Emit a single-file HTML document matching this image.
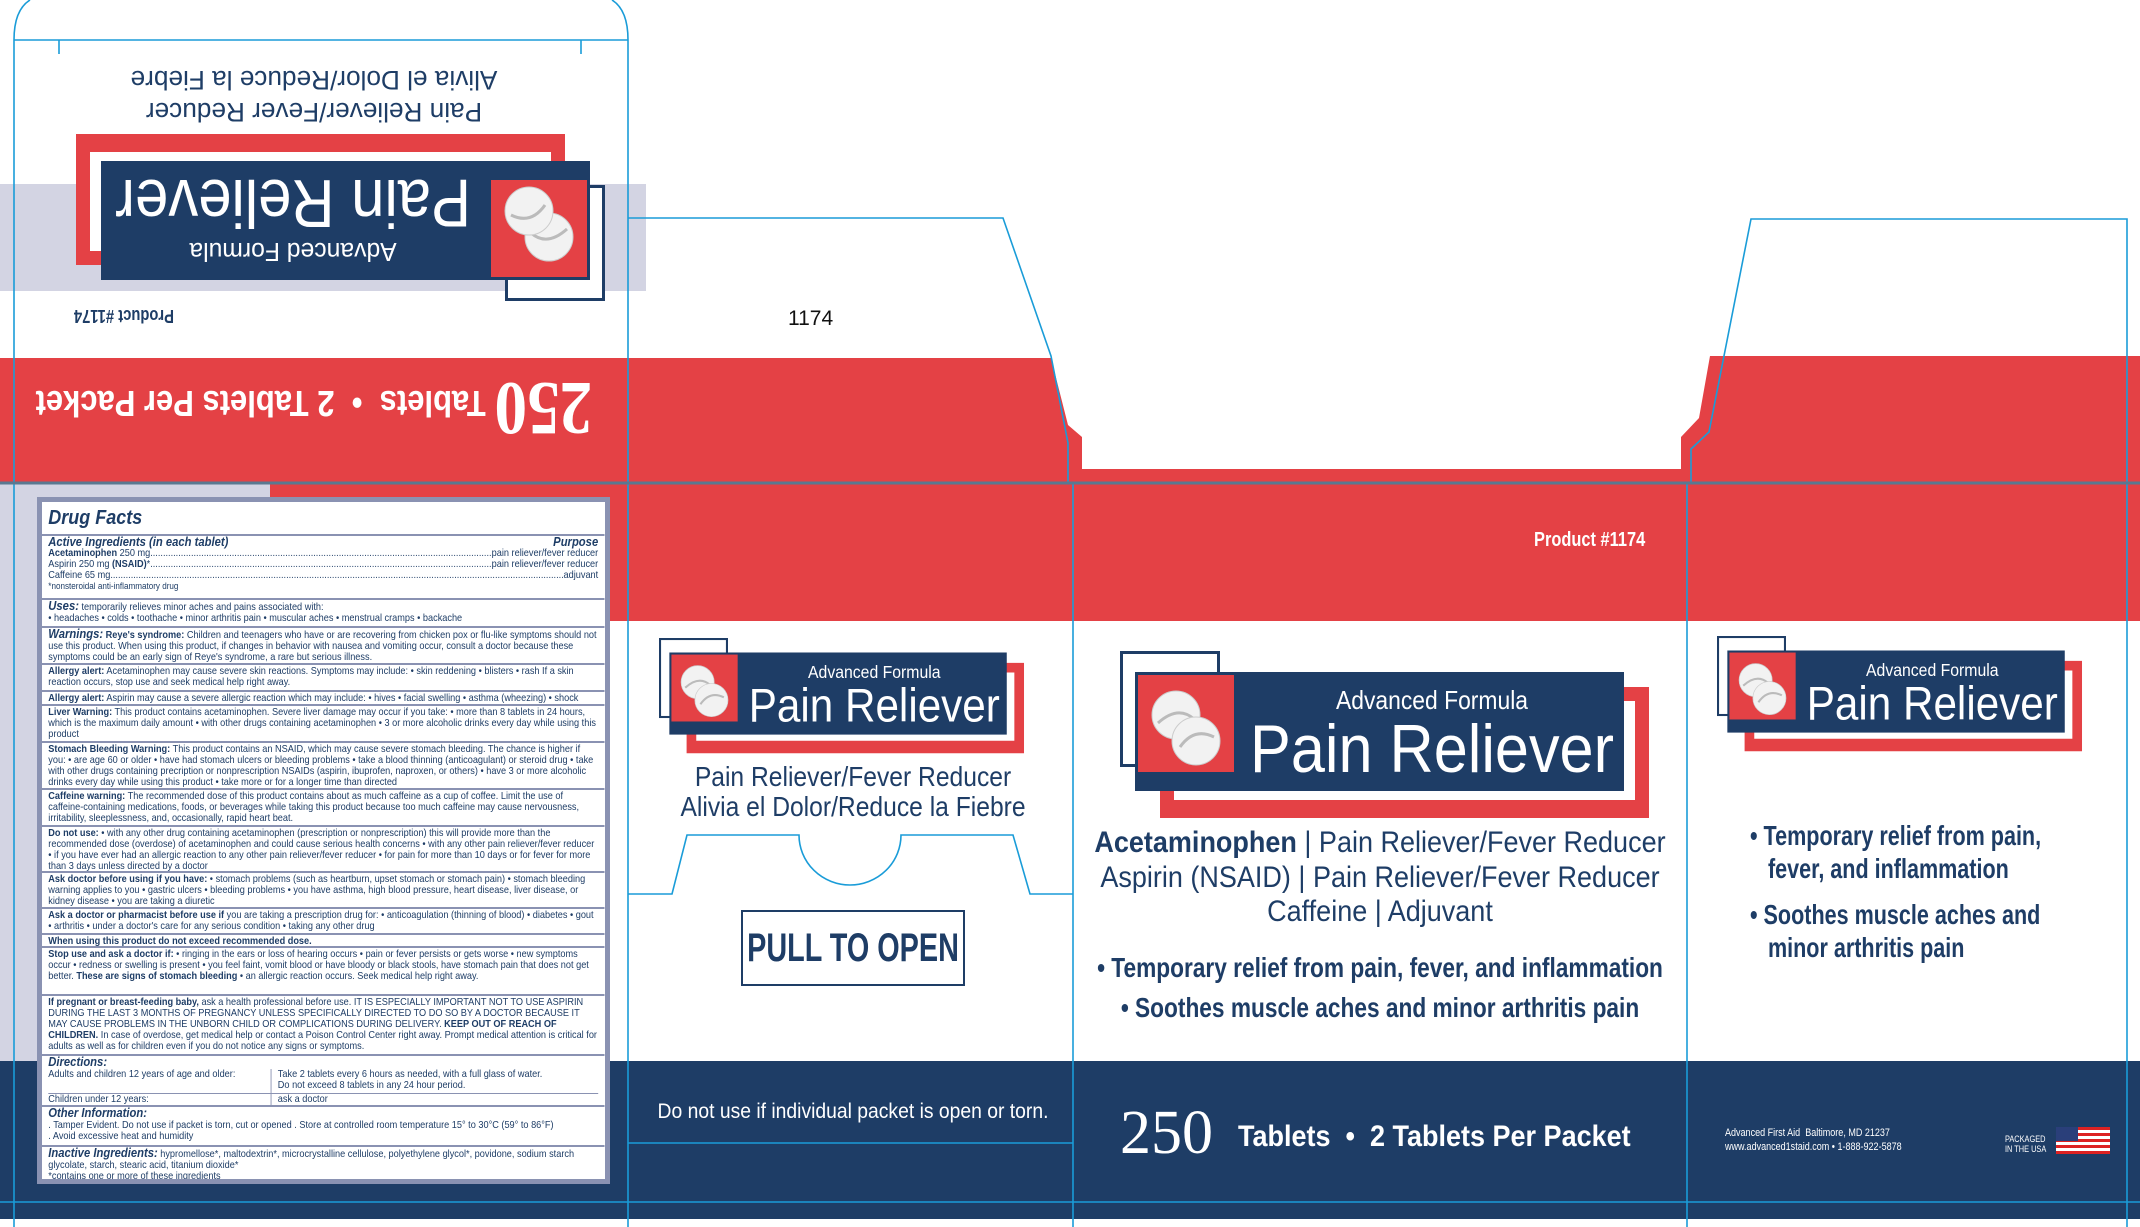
<!DOCTYPE html>
<html><head><meta charset="utf-8"><style>
*{margin:0;padding:0;box-sizing:border-box}
body{width:2140px;height:1227px;position:relative;overflow:hidden;background:#fff;font-family:"Liberation Sans",sans-serif;color:#1e3d66}
.abs{position:absolute}
.c{position:absolute;white-space:nowrap;text-align:center;transform:scaleX(.82);transform-origin:50% 50%}
.l{position:absolute;white-space:nowrap;transform:scaleX(.82);transform-origin:0 0}
.logo{position:absolute;width:529px;height:167px}
.logo .ob{position:absolute;left:0;top:0;width:100px;height:116px;border:3px solid #1e3d66;background:#fff}
.logo .rf{position:absolute;left:40px;top:36px;width:489px;height:131px;border:14px solid #e44145;border-bottom-width:18px;background:#fff}
.logo .nb{position:absolute;left:15px;top:21px;width:489px;height:119px;background:#1e3d66}
.logo .rs{position:absolute;left:18px;top:24px;width:96px;height:97px;background:#e44145}
.logo .af{left:112px;width:400px;top:34px;color:#fff;font-size:26px;line-height:30px;transform:scaleX(.88)}
.logo .pr{left:62px;width:500px;top:56px;color:#fff;font-size:68px;line-height:84px;transform:scaleX(.9)}
.df{position:absolute;left:37px;top:497px;width:573px;height:687px;background:#8a92b2;padding:5px}
.df .in{background:#fff;height:100%;overflow:hidden}
.df .sc{width:625px;transform:scaleX(.9);transform-origin:0 0;font-size:10.2px;line-height:11px;color:#1e3d66}
.df .s{border-top:2.5px solid #8a92b2;padding:1px 7px 2px 7px;overflow:hidden}
.df .h{font-weight:bold;font-style:italic;font-size:12.5px}
.row{display:flex;justify-content:space-between;white-space:nowrap}
.row .d{flex:1;overflow:hidden;min-width:0}
.row .p{flex:none}
</style></head><body>
<svg class="abs" style="left:0;top:0" width="2140" height="1227">
<rect x="0" y="184" width="646" height="107" fill="#d3d4e3"/>
<polygon points="0,358 1051,358 1068,425 1082,437 1082,469 1681,469 1681,437 1699,418 1710,356 2140,356 2140,621 270,621 270,483 0,483" fill="#e44145"/>
<rect x="0" y="483" width="270" height="14" fill="#d3d4e3"/>
<rect x="0" y="483" width="37" height="578" fill="#d3d4e3"/>
<rect x="0" y="1061" width="2140" height="158" fill="#1e3d66"/>
</svg>

<!-- Panel A upside-down -->
<div class="abs" style="left:0;top:0;width:628px;height:483px;transform:rotate(180deg)">
  <div class="c" style="left:-86px;width:800px;top:30px;font-size:36px;color:#fff;font-weight:bold;line-height:90px;transform:scaleX(.86)">
    <span style="font-family:'Liberation Serif',serif;font-size:76px;vertical-align:-8px">250</span> Tablets &nbsp;• &nbsp;2 Tablets Per Packet</div>
  <div class="l" style="left:454px;top:157px;font-size:18px;font-weight:bold">Product #1174</div>
  <div class="logo" style="left:23px;top:182px">
    <div class="ob"></div><div class="rf"></div><div class="nb"></div>
    <div class="rs"><svg width="96" height="97"><circle cx="38" cy="40" r="24" fill="#f2f2f2" stroke="#ccc"/><path d="M20,48 Q40,30 56,44" stroke="#bbb" fill="none" stroke-width="3"/><circle cx="58" cy="66" r="24" fill="#f2f2f2" stroke="#ccc"/><path d="M42,72 Q56,52 76,62" stroke="#bbb" fill="none" stroke-width="3"/></svg></div>
    <div class="c af" style="transform:scaleX(.95)">Advanced Formula</div>
    <div class="c pr" style="transform:scaleX(.88)">Pain Reliever</div>
  </div>
  <div class="c" style="left:-86px;width:800px;top:355px;font-size:27px;line-height:32px;transform:scaleX(.97)">Pain Reliever/Fever Reducer<br>Alivia el Dolor/Reduce la Fiebre</div>
</div>

<div class="abs" style="left:788px;top:307px;font-size:21px;color:#111">1174</div>
<div class="l" style="left:1534px;top:529px;font-size:20px;color:#fff;font-weight:bold">Product #1174</div>

<!-- Panel B -->
<div class="logo" style="left:659px;top:638px;transform:scale(0.69);transform-origin:0 0">
  <div class="ob"></div><div class="rf"></div><div class="nb"></div>
  <div class="rs"><svg width="96" height="97"><circle cx="38" cy="40" r="24" fill="#f2f2f2" stroke="#ccc"/><path d="M20,48 Q40,30 56,44" stroke="#bbb" fill="none" stroke-width="3"/><circle cx="58" cy="66" r="24" fill="#f2f2f2" stroke="#ccc"/><path d="M42,72 Q56,52 76,62" stroke="#bbb" fill="none" stroke-width="3"/></svg></div>
  <div class="c af">Advanced Formula</div><div class="c pr">Pain Reliever</div>
</div>
<div class="c" style="left:453px;width:800px;top:762px;font-size:28px;line-height:30px;transform:scaleX(.88)">Pain Reliever/Fever Reducer<br>Alivia el Dolor/Reduce la Fiebre</div>
<div class="abs" style="left:741px;top:910px;width:224px;height:76px;border:2px solid #1e3d66"></div>
<div class="c" style="left:553px;width:600px;top:910px;font-size:40px;line-height:76px;font-weight:bold;transform:scaleX(.72)">PULL TO OPEN</div>
<div class="c" style="left:453px;width:800px;top:1100px;font-size:21px;color:#fff;transform:scaleX(.92)">Do not use if individual packet is open or torn.</div>

<!-- Panel C -->
<div class="logo" style="left:1120px;top:651px">
  <div class="ob"></div><div class="rf"></div><div class="nb"></div>
  <div class="rs"><svg width="96" height="97"><circle cx="38" cy="40" r="24" fill="#f2f2f2" stroke="#ccc"/><path d="M20,48 Q40,30 56,44" stroke="#bbb" fill="none" stroke-width="3"/><circle cx="58" cy="66" r="24" fill="#f2f2f2" stroke="#ccc"/><path d="M42,72 Q56,52 76,62" stroke="#bbb" fill="none" stroke-width="3"/></svg></div>
  <div class="c af">Advanced Formula</div><div class="c pr">Pain Reliever</div>
</div>
<div class="c" style="left:980px;width:800px;top:826px;font-size:30px;line-height:34.5px;transform:scaleX(.9)">
<b>Acetaminophen</b> | Pain Reliever/Fever Reducer<br>Aspirin (NSAID) | Pain Reliever/Fever Reducer<br>Caffeine | Adjuvant</div>
<div class="c" style="left:980px;width:800px;top:948px;font-size:28px;line-height:40px;font-weight:bold;transform:scaleX(.81)">• Temporary relief from pain, fever, and inflammation<br>• Soothes muscle aches and minor arthritis pain</div>
<div class="abs" style="left:1120px;top:1098px;font-size:62px;color:#fff;font-family:'Liberation Serif',serif;line-height:70px">250</div>
<div class="l" style="left:1238px;top:1120px;font-size:30px;color:#fff;font-weight:bold;transform:scaleX(.9)">Tablets &nbsp;• &nbsp;2 Tablets Per Packet</div>

<!-- Panel D -->
<div class="logo" style="left:1717px;top:636px;transform:scale(0.69);transform-origin:0 0">
  <div class="ob"></div><div class="rf"></div><div class="nb"></div>
  <div class="rs"><svg width="96" height="97"><circle cx="38" cy="40" r="24" fill="#f2f2f2" stroke="#ccc"/><path d="M20,48 Q40,30 56,44" stroke="#bbb" fill="none" stroke-width="3"/><circle cx="58" cy="66" r="24" fill="#f2f2f2" stroke="#ccc"/><path d="M42,72 Q56,52 76,62" stroke="#bbb" fill="none" stroke-width="3"/></svg></div>
  <div class="c af">Advanced Formula</div><div class="c pr">Pain Reliever</div>
</div>
<div class="l" style="left:1750px;top:820px;font-size:28px;line-height:32.5px;font-weight:bold;transform:scaleX(.77)">• Temporary relief from pain,<br>&nbsp;&nbsp;&nbsp;fever, and inflammation</div>
<div class="l" style="left:1750px;top:899px;font-size:28px;line-height:32.5px;font-weight:bold;transform:scaleX(.77)">• Soothes muscle aches and<br>&nbsp;&nbsp;&nbsp;minor arthritis pain</div>
<div class="l" style="left:1725px;top:1126px;font-size:11px;line-height:14px;color:#fff">Advanced First Aid &nbsp;Baltimore, MD 21237<br>www.advanced1staid.com • 1-888-922-5878</div>
<div class="l" style="left:2005px;top:1134px;font-size:9px;line-height:10px;color:#fff">PACKAGED<br>IN THE USA</div>
<svg class="abs" style="left:2056px;top:1127px" width="54" height="27"><rect width="54" height="27" fill="#fff"/><g fill="#d22"><rect y="0" width="54" height="3"/><rect y="6" width="54" height="3"/><rect y="12" width="54" height="3"/><rect y="18" width="54" height="3"/><rect y="24" width="54" height="3"/></g><rect width="22" height="14" fill="#2a3f7a"/></svg>

<!-- Drug facts -->
<div class="df"><div class="in"><div class="sc">
<div style="padding:2px 7px;height:32px"><span style="font-size:20px;font-weight:bold;font-style:italic;line-height:28px">Drug Facts</span></div>
<div class="s" style="height:64px"><div class="row"><span class="h">Active Ingredients (in each tablet)</span><span class="h">Purpose</span></div>
<div class="row"><span class="d"><b>Acetaminophen</b> 250 mg..................................................................................................................................................................</span><span class="p">pain reliever/fever reducer</span></div>
<div class="row"><span class="d">Aspirin 250 mg <b>(NSAID)</b>*.........................................................................................................................................................</span><span class="p">pain reliever/fever reducer</span></div>
<div class="row"><span class="d">Caffeine 65 mg...................................................................................................................................................................................</span><span class="p">adjuvant</span></div>
<div style="font-size:9px">*nonsteroidal anti-inflammatory drug</div></div>
<div class="s" style="height:28px"><span class="h">Uses:</span> temporarily relieves minor aches and pains associated with:<br>• headaches • colds • toothache • minor arthritis pain • muscular aches • menstrual cramps • backache</div>
<div class="s" style="height:37px"><span class="h">Warnings:</span> <b>Reye's syndrome:</b> Children and teenagers who have or are recovering from chicken pox or flu-like symptoms should not use this product. When using this product, if changes in behavior with nausea and vomiting occur, consult a doctor because these symptoms could be an early sign of Reye's syndrome, a rare but serious illness.</div>
<div class="s" style="height:27px"><b>Allergy alert:</b> Acetaminophen may cause severe skin reactions. Symptoms may include: • skin reddening • blisters • rash If a skin reaction occurs, stop use and seek medical help right away.</div>
<div class="s" style="height:14px;white-space:nowrap"><b>Allergy alert:</b> Aspirin may cause a severe allergic reaction which may include: • hives • facial swelling • asthma (wheezing) • shock</div>
<div class="s" style="height:37px"><b>Liver Warning:</b> This product contains acetaminophen. Severe liver damage may occur if you take: • more than 8 tablets in 24 hours, which is the maximum daily amount • with other drugs containing acetaminophen • 3 or more alcoholic drinks every day while using this product</div>
<div class="s" style="height:47px"><b>Stomach Bleeding Warning:</b> This product contains an NSAID, which may cause severe stomach bleeding. The chance is higher if you: • are age 60 or older • have had stomach ulcers or bleeding problems • take a blood thinning (anticoagulant) or steroid drug • take with other drugs containing precription or nonprescription NSAIDs (aspirin, ibuprofen, naproxen, or others) • have 3 or more alcoholic drinks every day while using this product • take more or for a longer time than directed</div>
<div class="s" style="height:37px"><b>Caffeine warning:</b> The recommended dose of this product contains about as much caffeine as a cup of coffee. Limit the use of caffeine-containing medications, foods, or beverages while taking this product because too much caffeine may cause nervousness, irritability, sleeplessness, and, occasionally, rapid heart beat.</div>
<div class="s" style="height:46px"><b>Do not use:</b> • with any other drug containing acetaminophen (prescription or nonprescription) this will provide more than the recommended dose (overdose) of acetaminophen and could cause serious health concerns • with any other pain reliever/fever reducer • if you have ever had an allergic reaction to any other pain reliever/fever reducer • for pain for more than 10 days or for fever for more than 3 days unless directed by a doctor</div>
<div class="s" style="height:36px"><b>Ask doctor before using if you have:</b> • stomach problems (such as heartburn, upset stomach or stomach pain) • stomach bleeding warning applies to you • gastric ulcers • bleeding problems • you have asthma, high blood pressure, heart disease, liver disease, or kidney disease • you are taking a diuretic</div>
<div class="s" style="height:26px"><b>Ask a doctor or pharmacist before use if</b> you are taking a prescription drug for: • anticoagulation (thinning of blood) • diabetes • gout • arthritis • under a doctor's care for any serious condition • taking any other drug</div>
<div class="s" style="height:13px"><b>When using this product do not exceed recommended dose.</b></div>
<div class="s" style="height:48px"><b>Stop use and ask a doctor if:</b> • ringing in the ears or loss of hearing occurs • pain or fever persists or gets worse • new symptoms occur • redness or swelling is present • you feel faint, vomit blood or have bloody or black stools, have stomach pain that does not get better. <b>These are signs of stomach bleeding</b> • an allergic reaction occurs. Seek medical help right away.</div>
<div class="s" style="height:60px"><b>If pregnant or breast-feeding baby,</b> ask a health professional before use. IT IS ESPECIALLY IMPORTANT NOT TO USE ASPIRIN DURING THE LAST 3 MONTHS OF PREGNANCY UNLESS SPECIFICALLY DIRECTED TO DO SO BY A DOCTOR BECAUSE IT MAY CAUSE PROBLEMS IN THE UNBORN CHILD OR COMPLICATIONS DURING DELIVERY. <b>KEEP OUT OF REACH OF CHILDREN.</b> In case of overdose, get medical help or contact a Poison Control Center right away. Prompt medical attention is critical for adults as well as for children even if you do not notice any signs or symptoms.</div>
<div class="s" style="height:51px;padding:1px 7px 0"><span class="h">Directions:</span>
<div style="display:flex;border-bottom:1px solid #8a92b2"><div style="width:248px;border-right:1px solid #8a92b2;height:24px">Adults and children 12 years of age and older:</div><div style="padding-left:7px">Take 2 tablets every 6 hours as needed, with a full glass of water.<br>Do not exceed 8 tablets in any 24 hour period.</div></div>
<div style="display:flex"><div style="width:248px;border-right:1px solid #8a92b2">Children under 12 years:</div><div style="padding-left:7px">ask a doctor</div></div></div>
<div class="s" style="height:40px"><span class="h">Other Information:</span><br>. Tamper Evident. Do not use if packet is torn, cut or opened . Store at controlled room temperature 15° to 30°C (59° to 86°F)<br>. Avoid excessive heat and humidity</div>
<div class="s" style="height:41px"><span class="h">Inactive Ingredients:</span> hypromellose*, maltodextrin*, microcrystalline cellulose, polyethylene glycol*, povidone, sodium starch glycolate, starch, stearic acid, titanium dioxide*<br>*contains one or more of these ingredients</div>
</div></div></div>

<!-- cut / fold lines -->
<svg class="abs" style="left:0;top:0" width="2140" height="1227" fill="none">
<g stroke="#1a9cd8" stroke-width="1.6">
<path d="M14,1227 V40 Q14,10 30,0 M628,1227 V40 Q628,10 612,0 M14,40 H628 M59,40 V54 M581,40 V54"/>
<path d="M628,218 H1003 L1051,356 L1068,443 V483"/>
<path d="M1691,483 V449 L1709,432 L1751,219 H2127 V1227"/>
<path d="M1073,483 V1227 M1687,483 V1227"/>
<path d="M628,894 H672 L687,835 H799 A51,50 0 0 0 901,835 H1013 L1030,894 H1073"/>
<path d="M628,1143 H1073"/>
<path d="M0,1202 H2140"/>
</g>
<path d="M0,483 H2140" stroke="#5a7890" stroke-width="3"/>
</svg>
</body></html>
